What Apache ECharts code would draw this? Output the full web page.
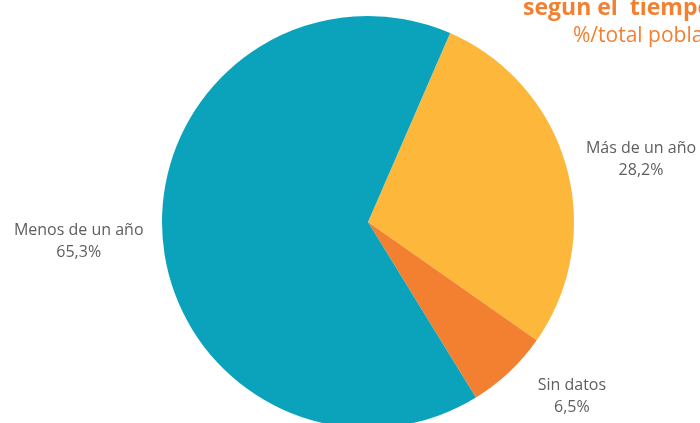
<!DOCTYPE html>
<html>
<head>
<meta charset="utf-8">
<script src="https://cdn.jsdelivr.net/npm/echarts@6/dist/echarts.min.js"></script>
<style>
   html, body { margin: 0; padding: 0; background: #fff; }
   #chart { width: 700px; height: 423px; }
</style>
</head>
<body>
<div id="chart"></div>
<script>
// datos del grafico
var categorias = ['Más de un año', 'Sin datos', 'Menos de un año'];
var valores = [28.2, 6.5, 65.3];
var colores = ['#fdb83b', '#f38031', '#0ba3bb'];

var titulo = 'segun el  tiempo de residencia';
var subtitulo = '%/total población';

// ajuste fino de las etiquetas (px)
var ajusteX = [1, 12, 0];
var ajusteY = [-5, 19, 4];

var datos = categorias.map(function (c, i) {
   return { name: c, value: valores[i], itemStyle: { color: colores[i] } };
});

echarts.init(document.getElementById('chart')).setOption({
   animation: false,
   title: [{
      text: titulo,
      left: 523,
      top: -3,
      padding: 0,
      textStyle: {
         color: '#f38031',
         fontFamily: 'Open Sans',
         fontWeight: 'bold',
         fontSize: 23
      }
   }, {
      text: subtitulo,
      left: 573,
      top: 26,
      padding: 0,
      textStyle: {
         color: '#f38031',
         fontFamily: 'Open Sans',
         fontWeight: 'normal',
         fontSize: 21
      }
   }],
   series: [{
      type: 'pie',
      center: [368, 222],
      radius: 206,
      startAngle: 66.5,
      clockwise: true,
      data: datos,
      label: {
         show: true,
         position: 'outside',
         overflow: 'none',
         edgeDistance: 0,
         formatter: function (p) {
            return p.name + '\n' + p.value.toFixed(1).replace('.', ',') + '%';
         },
         color: '#5e5e5e',
         fontFamily: 'Open Sans',
         fontSize: 16,
         lineHeight: 22
      },
      labelLine: {
         show: false,
         length: 8,
         length2: 6
      },
      labelLayout: function (p) {
         var r = p.labelRect;
         return {
            x: r.x + r.width / 2 + ajusteX[p.dataIndex],
            y: r.y + r.height / 2 + ajusteY[p.dataIndex],
            align: 'center',
            verticalAlign: 'middle'
         };
      }
   }]
});
</script>
</body>
</html>
